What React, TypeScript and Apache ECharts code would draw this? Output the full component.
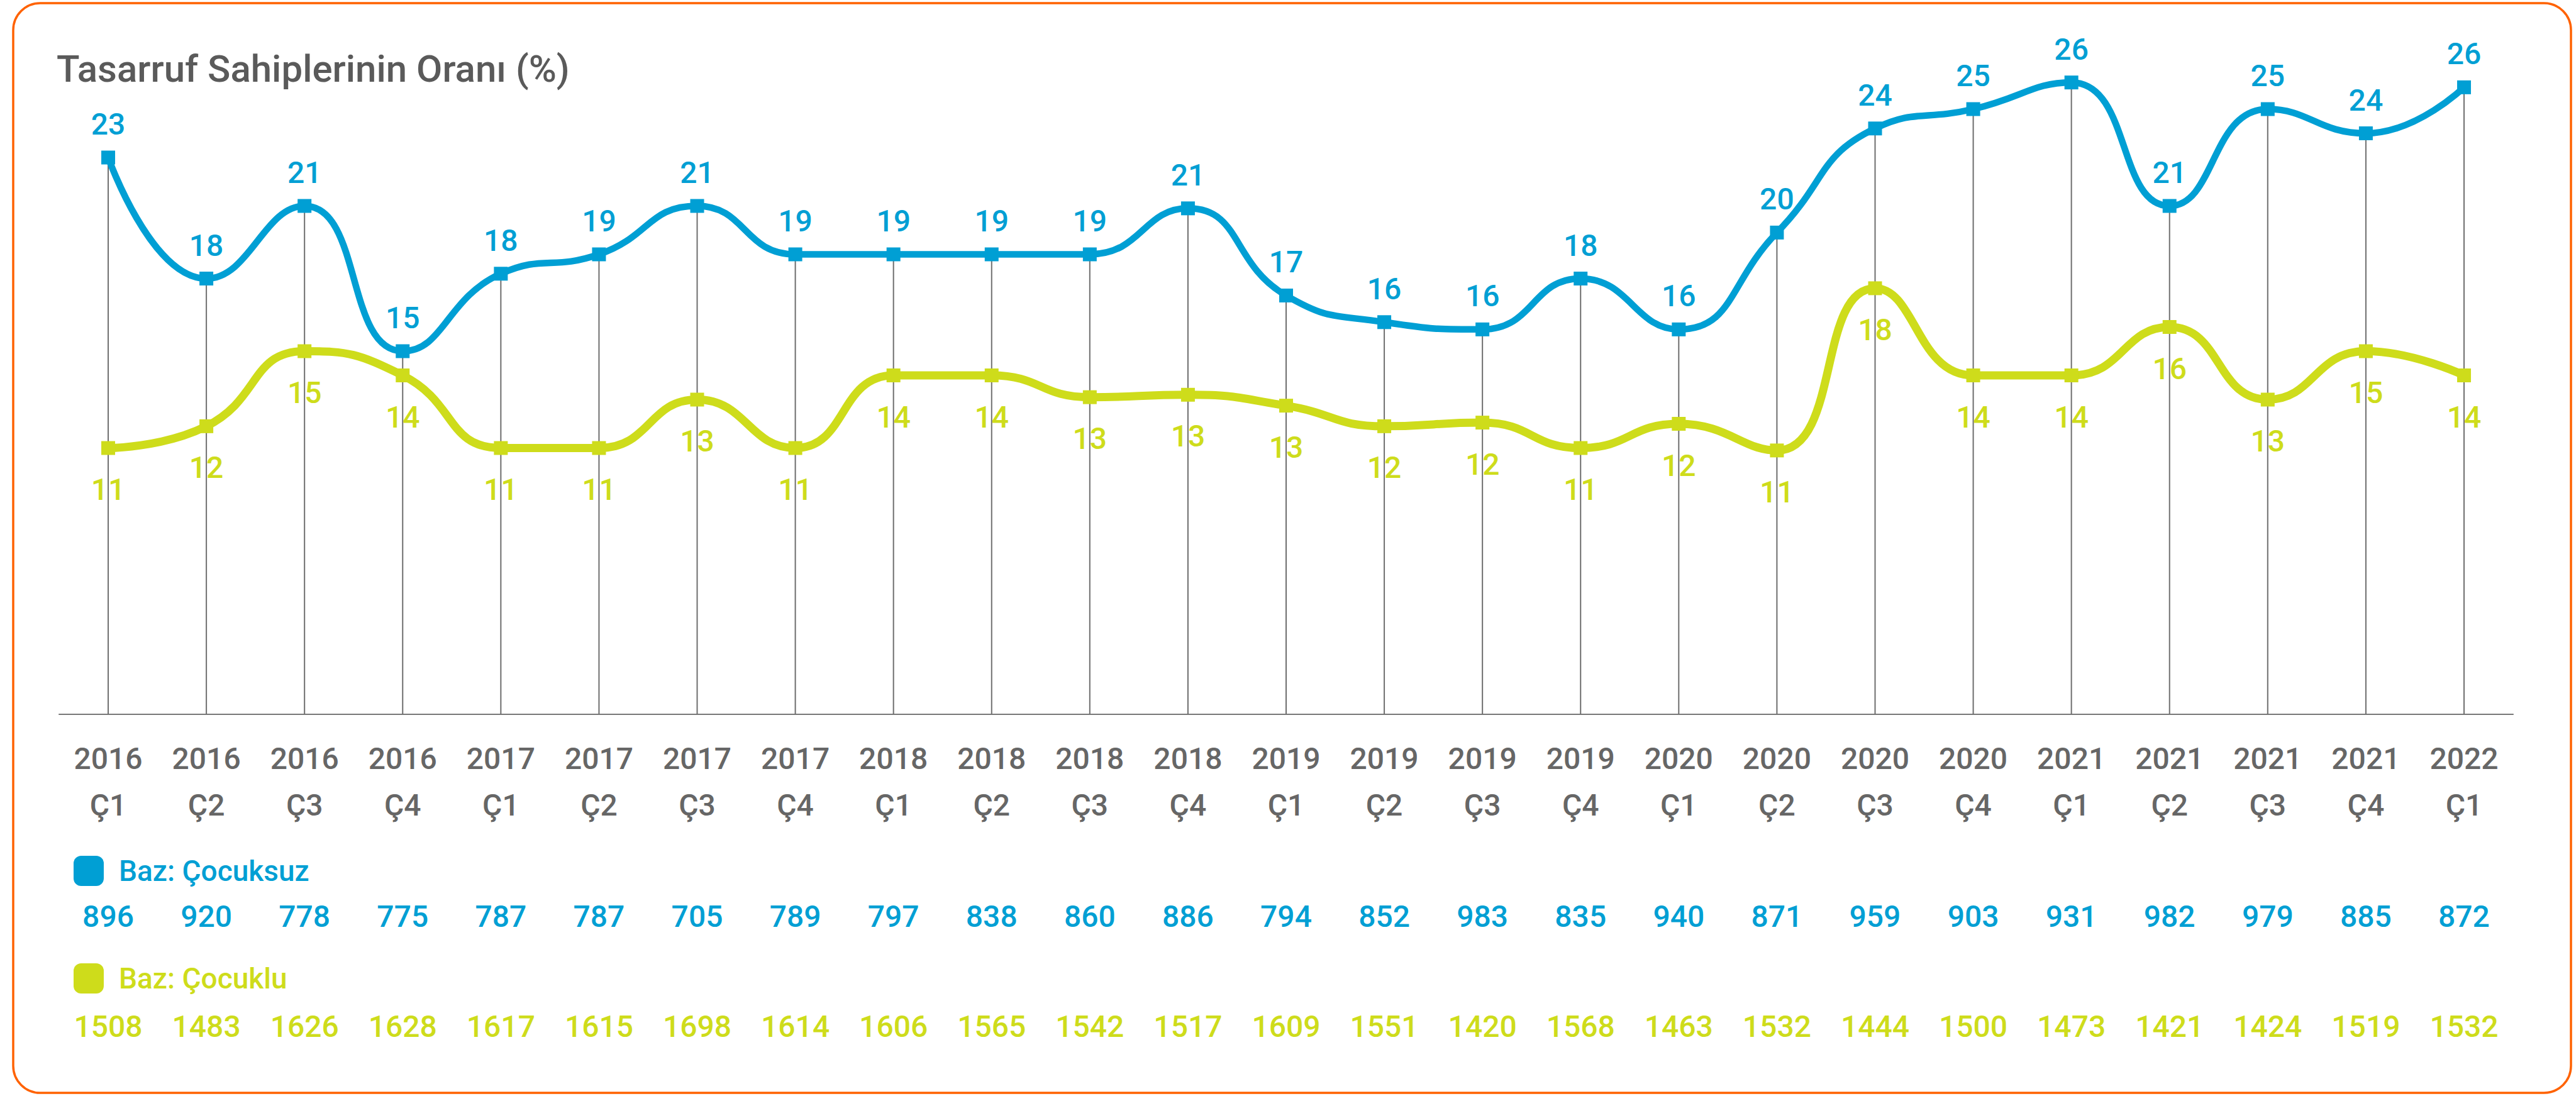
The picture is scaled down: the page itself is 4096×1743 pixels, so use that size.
import React, { useEffect, useRef } from "react";
import * as echarts from "echarts";

const years = ["2016","2016","2016","2016","2017","2017","2017","2017","2018","2018","2018","2018","2019","2019","2019","2019","2020","2020","2020","2020","2021","2021","2021","2021","2022"];
const quarters = ["Ç1","Ç2","Ç3","Ç4","Ç1","Ç2","Ç3","Ç4","Ç1","Ç2","Ç3","Ç4","Ç1","Ç2","Ç3","Ç4","Ç1","Ç2","Ç3","Ç4","Ç1","Ç2","Ç3","Ç4","Ç1"];
const cocuksuz = [23, 18, 21, 15, 18.2, 19, 21, 19, 19, 19, 19, 20.9, 17.3, 16.2, 15.9, 18, 15.9, 19.9, 24.2, 25, 26.1, 21, 25, 24, 25.9];
const cocuklu = [11, 11.9, 15, 14, 11, 11, 13, 11, 14, 14, 13.1, 13.2, 12.75, 11.9, 12.05, 11, 12, 10.9, 17.6, 14, 14, 16, 13, 15, 14];
const bazCocuksuz = [896, 920, 778, 775, 787, 787, 705, 789, 797, 838, 860, 886, 794, 852, 983, 835, 940, 871, 959, 903, 931, 982, 979, 885, 872];
const bazCocuklu = [1508, 1483, 1626, 1628, 1617, 1615, 1698, 1614, 1606, 1565, 1542, 1517, 1609, 1551, 1420, 1568, 1463, 1532, 1444, 1500, 1473, 1421, 1424, 1519, 1532];

const titleText = "Tasarruf Sahiplerinin Oranı (%)";
const nameCocuksuz = "Baz: Çocuksuz";
const nameCocuklu = "Baz: Çocuklu";

const BLUE = "#009fd4";
const YELLOW = "#cedc1b";
const GREY = "#666666";
const FONT = "Roboto";

export default function App() {
  const ref = useRef<HTMLDivElement>(null);
  useEffect(() => {
    if (!ref.current) return;
    const chart = echarts.init(ref.current, null, { renderer: "svg" });
    const categories = years.map((y, i) => y + "\n" + quarters[i]);
    const baseAxis = {
      type: "category",
      data: categories,
      boundaryGap: true,
      gridIndex: 0,
      position: "bottom",
      axisTick: { show: false },
    };
    chart.setOption({
      animation: false,
      backgroundColor: "#ffffff",
      textStyle: { fontFamily: FONT },
      title: {
        text: titleText,
        left: 90,
        top: 79,
        padding: 0,
        textStyle: { fontFamily: FONT, fontSize: 60, fontWeight: 500, color: "#5a5a5a", lineHeight: 60 },
      },
      graphic: [
        {
          type: "rect",
          shape: { x: 21, y: 5, width: 4067, height: 1733, r: 43 },
          style: { fill: "none", stroke: "#ff6200", lineWidth: 3.5 },
          silent: true,
          z: 0,
        },
      ],
      legend: [
        {
          data: [nameCocuksuz],
          left: 117,
          top: 1361,
          padding: 0,
          icon: "roundRect",
          itemWidth: 48,
          itemHeight: 48,
          selectedMode: false,
          textStyle: { color: BLUE, fontSize: 46, fontWeight: 500, fontFamily: FONT, padding: [0, 0, 0, 19] },
        },
        {
          data: [nameCocuklu],
          left: 117,
          top: 1532,
          padding: 0,
          icon: "roundRect",
          itemWidth: 48,
          itemHeight: 48,
          selectedMode: false,
          textStyle: { color: YELLOW, fontSize: 46, fontWeight: 500, fontFamily: FONT, padding: [0, 0, 0, 19] },
        },
      ],
      grid: { left: 94, right: 100, top: 58, bottom: 607, containLabel: false },
      xAxis: [
        {
          ...baseAxis,
          axisLine: { show: true, lineStyle: { color: "#777777", width: 2 } },
          axisLabel: {
            interval: 0,
            margin: 33,
            color: GREY,
            fontSize: 48,
            fontWeight: 500,
            fontFamily: FONT,
            lineHeight: 74,
          },
        },
        {
          ...baseAxis,
          offset: 297,
          axisLine: { show: false },
          axisLabel: {
            interval: 0,
            margin: 0,
            color: BLUE,
            fontSize: 48,
            fontWeight: 500,
            fontFamily: FONT,
            lineHeight: 48,
            formatter: (_v: string, i: number) => String(bazCocuksuz[i]),
          },
        },
        {
          ...baseAxis,
          offset: 472,
          axisLine: { show: false },
          axisLabel: {
            interval: 0,
            margin: 0,
            color: YELLOW,
            fontSize: 48,
            fontWeight: 500,
            fontFamily: FONT,
            lineHeight: 48,
            formatter: (_v: string, i: number) => String(bazCocuklu[i]),
          },
        },
      ],
      yAxis: {
        type: "value",
        min: 0,
        max: 28,
        show: false,
        splitLine: { show: false },
      },
      series: [
        {
          name: "drop",
          type: "bar",
          data: cocuksuz,
          barWidth: 2,
          itemStyle: { color: "#6e6e6e" },
          silent: true,
          z: 1,
        },
        {
          name: nameCocuklu,
          type: "line",
          data: cocuklu,
          smooth: 0.5,
          symbol: "rect",
          symbolSize: 22,
          itemStyle: { color: YELLOW },
          lineStyle: { color: YELLOW, width: 13 },
          z: 3,
          label: {
            show: true,
            position: "bottom",
            distance: 31,
            color: YELLOW,
            fontSize: 48,
            fontWeight: 500,
            fontFamily: FONT,
            formatter: (p: any) => String(Math.round(p.value)),
          },
        },
        {
          name: nameCocuksuz,
          type: "line",
          data: cocuksuz,
          smooth: 0.5,
          symbol: "rect",
          symbolSize: 22,
          itemStyle: { color: BLUE },
          lineStyle: { color: BLUE, width: 10.5 },
          z: 4,
          label: {
            show: true,
            position: "top",
            distance: 18,
            color: BLUE,
            fontSize: 48,
            fontWeight: 500,
            fontFamily: FONT,
            formatter: (p: any) => String(Math.round(p.value)),
          },
        },
      ],
    });
    return () => chart.dispose();
  }, []);
  return (
    <div
      ref={ref}
      style={{ position: "fixed", left: 0, top: 0, width: 4096, height: 1743 }}
    />
  );
}
